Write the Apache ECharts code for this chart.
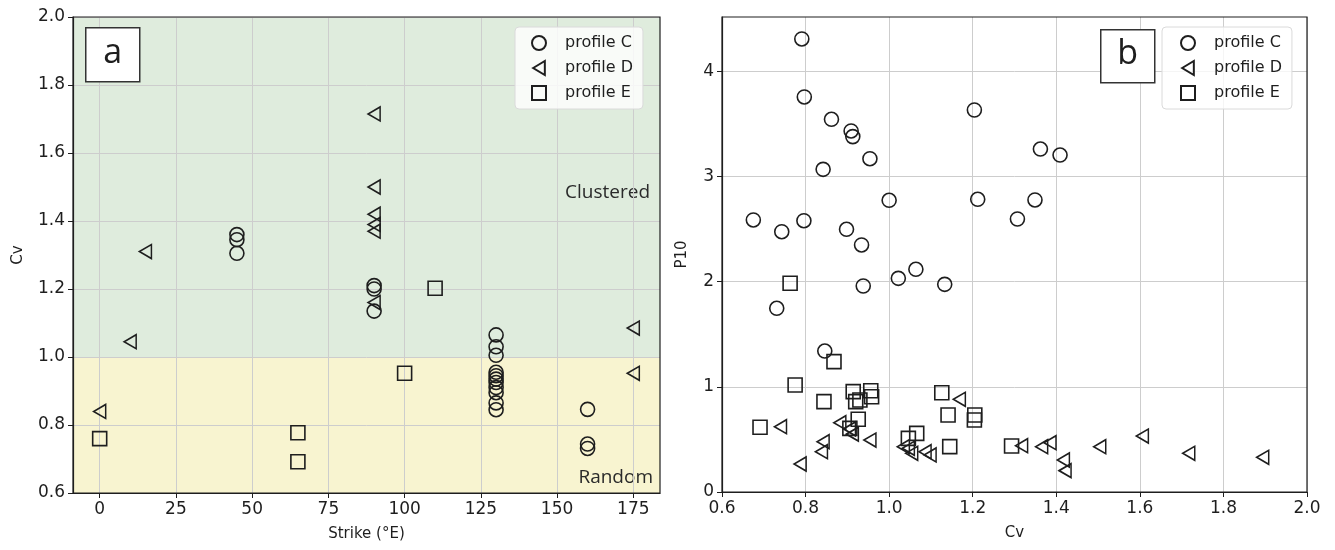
<!DOCTYPE html>
<html>
<head>
<meta charset="utf-8">
<script src="https://cdn.jsdelivr.net/npm/echarts@6/dist/echarts.min.js"></script>
<style>html,body{margin:0;padding:0;background:#fff;}#c{width:1335px;height:550px;}</style>
</head>
<body>
<div id="c"></div>
<script>
// ---------- Panel a : Cv vs Strike ----------
const aC_strike = [45,45,45, 90,90,90, 130,130,130,130,130,130,130,130,130,130,130, 160,160,160];
const aC_cv     = [1.36,1.345,1.305, 1.21,1.20,1.135, 1.065,1.03,1.005,0.955,0.945,0.935,0.925,0.91,0.895,0.865,0.845, 0.846,0.744,0.731];
const aD_strike = [0, 10, 15, 90,90,90,90,90,90, 175,175];
const aD_cv     = [0.84, 1.045, 1.31, 1.715,1.50,1.42,1.39,1.37,1.16, 1.085,0.952];
const aE_strike = [0, 65, 65, 100, 110];
const aE_cv     = [0.76, 0.777, 0.692, 0.952, 1.202];
const aXTicks = [0,25,50,75,100,125,150,175];
const aYTicks = [0.6,0.8,1.0,1.2,1.4,1.6,1.8,2.0];

// ---------- Panel b : P10 vs Cv ----------
const bC_cv  = [0.791,0.797,0.862,0.909,0.913,0.954,0.842,1.0,1.204,1.212,1.307,0.675,0.743,0.796,0.898,0.934,1.064,1.362,1.409,1.349,1.022,0.938,1.133,0.731,0.846];
const bC_p10 = [4.306,3.755,3.543,3.432,3.378,3.168,3.067,2.773,3.631,2.782,2.595,2.586,2.474,2.579,2.497,2.348,2.117,3.260,3.203,2.776,2.031,1.958,1.974,1.746,1.340];
const bD_cv  = [0.740,0.787,0.842,0.838,0.882,0.905,0.912,0.954,1.034,1.046,1.054,1.086,1.098,1.168,1.317,1.365,1.385,1.417,1.421,1.504,1.606,1.717,1.894];
const bD_p10 = [0.621,0.266,0.478,0.383,0.659,0.60,0.55,0.494,0.431,0.415,0.368,0.383,0.352,0.881,0.440,0.431,0.469,0.304,0.203,0.431,0.532,0.368,0.330];
const bE_cv  = [0.763,0.868,0.775,0.844,0.691,0.914,0.956,0.920,0.958,0.930,0.926,0.906,1.046,1.066,1.126,1.141,1.145,1.205,1.204,1.293];
const bE_p10 = [1.984,1.239,1.017,0.859,0.615,0.954,0.963,0.859,0.906,0.875,0.691,0.605,0.510,0.557,0.944,0.732,0.431,0.732,0.684,0.437];
const bXTicks = [0.6,0.8,1.0,1.2,1.4,1.6,1.8,2.0];
const bYTicks = [0,1,2,3,4];

const seriesNames = ['profile C','profile D','profile E'];
const zip = (xs, ys) => xs.map((x, i) => [x, ys[i]]);

const INK = '#1e1e1e';
const TRI = 'path://M0,6L10,0L10,12Z';
const markerStyle = {color: 'rgba(0,0,0,0)', borderColor: INK, borderWidth: 1.6, opacity: 1};
function scatter(name, data, xi, symbol, size) {
  return {
    type: 'scatter', name, data, xAxisIndex: xi, yAxisIndex: xi,
    symbol, symbolSize: size, itemStyle: markerStyle, z: 5,
    emphasis: {disabled: true}, silent: true, animation: false
  };
}
const tickFont = {fontFamily: 'DejaVu Sans', fontSize: 17, color: INK};
const nameFont = {fontFamily: 'DejaVu Sans', fontSize: 15, color: INK};
const splitLine = {show: true, lineStyle: {color: '#cdcdcd', width: 1}};
function axis(gi, min, max, ticks, fmt, extra) {
  return Object.assign({
    gridIndex: gi, type: 'value', min, max, z: 3,
    axisLine: {show: true, onZero: false, lineStyle: {color: INK, width: 1.2}},
    axisTick: {show: true, customValues: ticks, length: 5, lineStyle: {color: INK, width: 1}},
    axisLabel: Object.assign({customValues: ticks, formatter: fmt}, tickFont),
    splitLine,
    nameLocation: 'middle', nameTextStyle: nameFont
  }, extra);
}

const legendBase = {
  data: seriesNames, orient: 'vertical', top: 27, z: 8,
  padding: [8, 10, 8, 16], itemWidth: 14, itemHeight: 14, itemGap: 9,
  backgroundColor: 'rgba(255,255,255,0.8)', borderColor: '#dadada', borderWidth: 1, borderRadius: 4,
  textStyle: {fontFamily: 'DejaVu Sans', fontSize: 16, color: INK, padding: [0, 0, 0, 14]},
  itemStyle: {opacity: 1},
  selectedMode: false
};

const option = {
  animation: false,
  backgroundColor: '#fff',
  grid: [
    {left: 73, top: 17, width: 587, height: 476, show: true, borderColor: INK, borderWidth: 1.2, backgroundColor: 'rgba(0,0,0,0)', z: 4},
    {left: 722, top: 17, width: 585, height: 475, show: true, borderColor: INK, borderWidth: 1.2, backgroundColor: 'rgba(0,0,0,0)', z: 4}
  ],
  xAxis: [
    axis(0, -8.75, 183.75, aXTicks, v => String(v), {name: 'Strike (°E)', nameGap: 34}),
    axis(1, 0.6, 2.0, bXTicks, v => v.toFixed(1), {name: 'Cv', nameGap: 34})
  ],
  yAxis: [
    axis(0, 0.6, 2.0, aYTicks, v => v.toFixed(1), {name: 'Cv', nameGap: 47}),
    axis(1, 0, 4.515, bYTicks, v => String(v), {name: 'P10', nameGap: 32})
  ],
  legend: [
    Object.assign({left: 515}, legendBase),
    Object.assign({left: 1162}, legendBase, {padding: [8, 10, 8, 18]})
  ],
  graphic: [
    {type: 'group', left: 85, top: 27, z: 10, children: [
      {type: 'rect', z: 10, shape: {x: 0, y: 0, width: 54, height: 54}, style: {fill: '#fff', stroke: '#333', lineWidth: 1.5}},
      {type: 'text', z: 11, x: 27, y: 26, style: {text: 'a', font: '34px "Open Sans"', fill: INK, align: 'center', verticalAlign: 'middle'}}
    ]},
    {type: 'group', left: 1100, top: 29, z: 10, children: [
      {type: 'rect', z: 10, shape: {x: 0, y: 0, width: 54, height: 53}, style: {fill: '#fff', stroke: '#333', lineWidth: 1.5}},
      {type: 'text', z: 11, x: 27, y: 25, style: {text: 'b', font: '34px "Open Sans"', fill: INK, align: 'center', verticalAlign: 'middle'}}
    ]}
  ],
  series: [
    {
      type: 'scatter', name: 'bands', data: [], xAxisIndex: 0, yAxisIndex: 0, z: 0, silent: true,
      markArea: {
        silent: true, z: 0,
        data: [
          [{yAxis: 1.0, itemStyle: {color: '#dfecdd', opacity: 1},
            label: {show: true, formatter: 'Clustered', position: 'insideRight', offset: [-5, 6], fontFamily: 'Open Sans', fontSize: 19, color: '#2a2a2a'}},
           {yAxis: 2.0}],
          [{yAxis: 0.6, itemStyle: {color: '#f8f4d0', opacity: 1},
            label: {show: true, formatter: 'Random', position: 'insideBottomRight', offset: [-2, -1], fontFamily: 'Open Sans', fontSize: 19, color: '#2a2a2a'}},
           {yAxis: 1.0}]
        ]
      }
    },
    scatter('profile C', zip(aC_strike, aC_cv), 0, 'circle', 14),
    scatter('profile D', zip(aD_strike, aD_cv), 0, TRI, [12, 14]),
    scatter('profile E', zip(aE_strike, aE_cv), 0, 'rect', 14),
    scatter('profile C', zip(bC_cv, bC_p10), 1, 'circle', 14),
    scatter('profile D', zip(bD_cv, bD_p10), 1, TRI, [12, 14]),
    scatter('profile E', zip(bE_cv, bE_p10), 1, 'rect', 14)
  ]
};

const chart = echarts.init(document.getElementById('c'), null, {renderer: 'canvas'});
chart.setOption(option);
</script>
</body>
</html>
